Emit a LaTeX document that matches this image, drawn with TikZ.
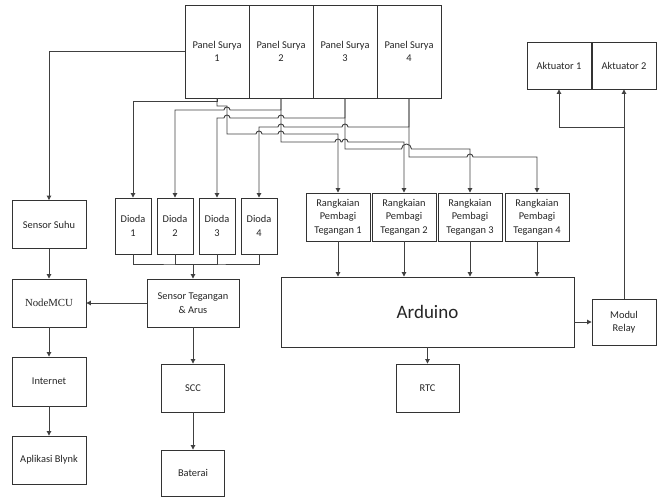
\documentclass[tikz,border=0pt]{standalone}
\usepackage{fontspec}
\setmainfont{Carlito}
\newfontfamily\nodefont{Liberation Serif}
\usepackage{tikz}
\usetikzlibrary{arrows.meta}
\tikzset{blok/.style={draw=black!80,line width=0.9pt,fill=white,align=center,inner sep=1pt,text=black!85,font=\fontsize{10.4}{13.5}\selectfont}}
\tikzset{kabel/.style={draw=black!75,line width=0.9pt}}
\tikzset{panah/.style={kabel,-{Triangle[length=4.5pt,width=4.5pt]}}}

\begin{document}
\begin{tikzpicture}[x=1pt,y=-1pt]
            \useasboundingbox (0,0) rectangle (662,498);
            % panel surya
            \node[blok,minimum width=64,minimum height=93] (p1) at (217,51.5) {Panel Surya\\1};
            \node[blok,minimum width=64,minimum height=93] (p2) at (281,51.5) {Panel Surya\\2};
            \node[blok,minimum width=64,minimum height=93] (p3) at (345,51.5) {Panel Surya\\3};
            \node[blok,minimum width=64,minimum height=93] (p4) at (409,51.5) {Panel Surya\\4};
            % aktuator
            \node[blok,minimum width=64,minimum height=47] (ak1) at (559,65.5) {Aktuator 1};
            \node[blok,minimum width=64,minimum height=47] (ak2) at (624,65.5) {Aktuator 2};
            % dioda
            \node[blok,minimum width=36,minimum height=56] (d1) at (133,226) {Dioda\\1};
            \node[blok,minimum width=36,minimum height=56] (d2) at (175,226) {Dioda\\2};
            \node[blok,minimum width=36,minimum height=56] (d3) at (217,226) {Dioda\\3};
            \node[blok,minimum width=36,minimum height=56] (d4) at (259,226) {Dioda\\4};
            % rangkaian pembagi tegangan
            \node[blok,minimum width=64,minimum height=48] (r1) at (338,217) {Rangkaian\\Pembagi\\Tegangan 1};
            \node[blok,minimum width=64,minimum height=48] (r2) at (404,217) {Rangkaian\\Pembagi\\Tegangan 2};
            \node[blok,minimum width=64,minimum height=48] (r3) at (470,217) {Rangkaian\\Pembagi\\Tegangan 3};
            \node[blok,minimum width=64,minimum height=48] (r4) at (537,217) {Rangkaian\\Pembagi\\Tegangan 4};
            % sisi kiri
            \node[blok,minimum width=74,minimum height=48] (suhu) at (49,224.5) {Sensor Suhu};
            \node[blok,minimum width=74,minimum height=48,font=\nodefont\fontsize{10.8}{13}\selectfont] (nodemcu) at (49,303) {NodeMCU};
            \node[blok,minimum width=74,minimum height=49] (internet) at (49,381.5) {Internet};
            \node[blok,minimum width=74,minimum height=48] (blynk) at (49,460) {Aplikasi Blynk};
            % sensor, scc, baterai
            \node[blok,minimum width=92,minimum height=48] (stv) at (193,303) {Sensor Tegangan\\\& Arus};
            \node[blok,minimum width=63,minimum height=48] (scc) at (193,388) {SCC};
            \node[blok,minimum width=63,minimum height=46] (baterai) at (193,473) {Baterai};
            % arduino, rtc, relay
            \node[blok,minimum width=293,minimum height=70,font=\fontsize{19}{22}\selectfont] (ard) at (427.5,312) {Arduino};
            \node[blok,minimum width=63,minimum height=48] (rtc) at (427.5,388) {RTC};
            \node[blok,minimum width=64,minimum height=46] (relay) at (624,322) {Modul\\Relay};

            % panel -> dioda
            \draw[panah] (p1.south) -- (217,101) -- (133,101) -- (d1.north);
            \draw[panah] (p2.south) -- (281,110) -- (230,110) arc (0:-180:3) -- (175,110) -- (d2.north);
            \draw[panah] (p3.south) -- (345,118) -- (284,118) arc (0:-180:3) -- (230,118) arc (0:-180:3) -- (217,118) -- (d3.north);
            \draw[panah] (p4.south) -- (409,127) -- (348,127) arc (0:-180:3) -- (284,127) arc (0:-180:3) -- (259,127) -- (d4.north);
            % panel -> pembagi tegangan
            \draw[panah] (p1.south) -- (217,106) -- (227,106) -- (227,134) -- (256,134) arc (180:360:3) -- (278,134) arc (180:360:3) -- (338,134) -- (r1.north);
            \draw[panah] (p2.south) -- (281,142) -- (335,142) arc (180:360:3) -- (342,142) arc (180:360:3) -- (404,142) -- (r2.north);
            \draw[panah] (p3.south) -- (345,149) -- (401.5,149) arc (180:360:5) -- (470,149) -- (r3.north);
            \draw[panah] (p4.south) -- (409,157) -- (467,157) arc (180:360:3) -- (537,157) -- (r4.north);
            % panel 1 -> sensor suhu
            \draw[panah] (p1.west) -| (suhu.north);

            % dioda -> sensor tegangan
            \coordinate (dj) at (193,264);
            \draw[kabel] (d1.south) |- (dj) -| (d4.south);
            \draw[kabel] (d2.south) |- (dj);
            \draw[kabel] (d3.south) |- (dj);
            \draw[panah] (dj) -- (stv.north);

            \draw[panah] (suhu) -- (nodemcu);
            \draw[panah] (stv) -- (nodemcu);
            \draw[panah] (nodemcu) -- (internet);
            \draw[panah] (internet) -- (blynk);
            \draw[panah] (stv) -- (scc);
            \draw[panah] (scc) -- (baterai);

            % pembagi tegangan -> arduino
            \draw[panah] (r1.south) -- (r1.south |- ard.north);
            \draw[panah] (r2.south) -- (r2.south |- ard.north);
            \draw[panah] (r3.south) -- (r3.south |- ard.north);
            \draw[panah] (r4.south) -- (r4.south |- ard.north);
            \draw[panah] (ard) -- (rtc);
            \draw[panah] (ard.east |- relay) -- (relay.west);

            % relay -> aktuator
            \coordinate (cab) at (624,127);
            \draw[panah] (relay) -- (ak2);
            \draw[panah] (cab) -| (ak1.south);
        \end{tikzpicture}
\end{document}
